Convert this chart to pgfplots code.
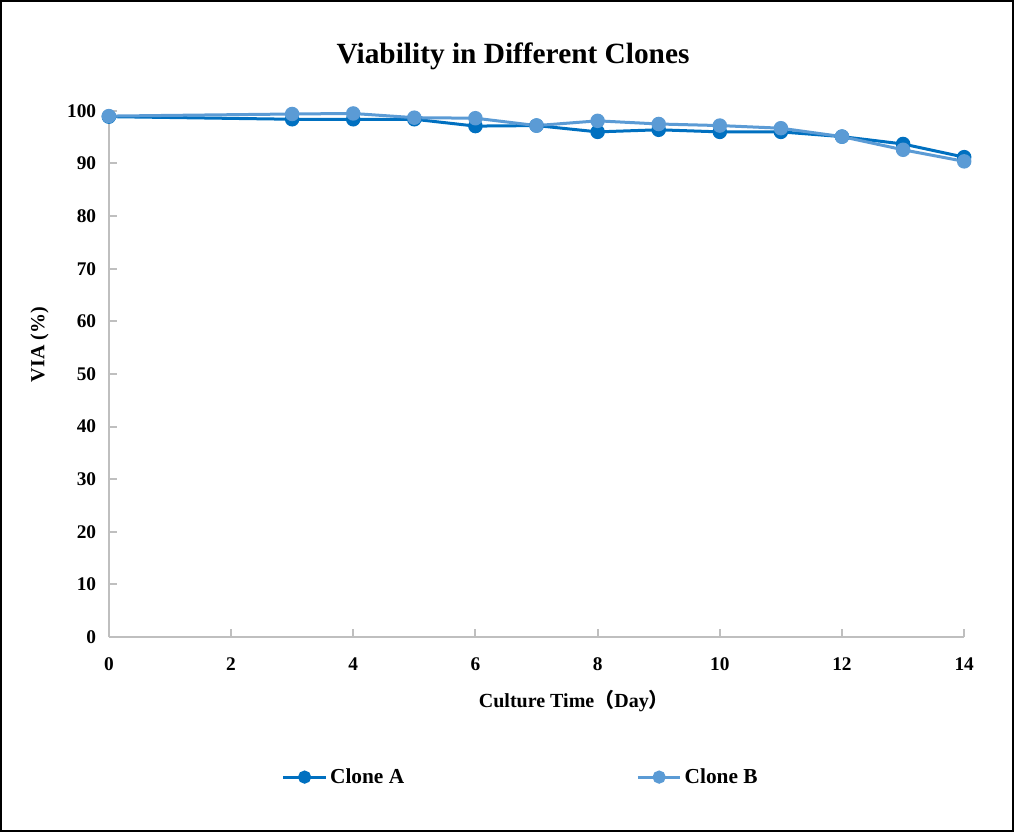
\documentclass[border=0pt]{standalone}
\usepackage{fontspec}
\setmainfont{Liberation Serif}
\newfontfamily\cjk{Noto Sans CJK SC}
\usepackage{pgfplots}
\pgfplotsset{compat=1.18}
\definecolor{cloneA}{HTML}{0070C0}
\definecolor{cloneB}{HTML}{5B9BD5}
\definecolor{axgray}{HTML}{BFBFBF}
\begin{document}
\begin{tikzpicture}
\begin{axis}[
  at={(0,0)}, anchor=south west,
  scale only axis,
  width=641.25pt, height=394.5pt,
  xmin=0, xmax=14, ymin=0, ymax=100,
  xtick={0,2,...,14}, ytick={0,10,...,100},
  axis x line=bottom, axis y line=left,
  axis line style={draw=axgray, line width=1.5pt, -},
  tick style={draw=axgray, line width=1.5pt},
  tick align=inside, major tick length=6pt,
  /pgf/number format/assume math mode=true,
  ticklabel style={font=\fontsize{14.5}{16}\selectfont\bfseries},
  xticklabel style={yshift=-12pt},
  yticklabel style={xshift=-6pt},
  xlabel={Culture Time{\cjk （}Day{\cjk ）}},
  xlabel style={font=\fontsize{15}{17}\selectfont\bfseries, at={(axis description cs:0.5,0)}, anchor=center, yshift=-48pt, xshift=28pt},
  ylabel={VIA (\%)},
  ylabel style={font=\fontsize{15}{17}\selectfont\bfseries, at={([xshift=-52pt, yshift=22pt]axis description cs:0,0.5)}, anchor=center},
  legend columns=2,
  legend style={at={(309pt,-105pt)}, anchor=center, draw=none, fill=none,
    font=\fontsize{16}{18}\selectfont\bfseries,
    /tikz/every even column/.append style={column sep=172pt}},
  legend image code/.code={
    \draw[#1, mark=none] (0pt,0pt) -- (32pt,0pt);
    \draw[#1, only marks, mark size=3.8pt] plot coordinates {(16pt,0pt)};
  },
  clip=false,
]
\addplot[color=cloneA, line width=2.25pt, mark=*, mark size=4.3pt, mark options={fill=cloneA, draw=cloneA}] coordinates {
  (0,98.9) (3,98.4) (4,98.4) (5,98.4) (6,97.1) (7,97.2) (8,96.0) (9,96.4) (10,96.0) (11,96.0) (12,95.1) (13,93.7) (14,91.2)
};
\addlegendentry{Clone A}
\addplot[color=cloneB, line width=2.25pt, mark=*, mark size=4.3pt, mark options={fill=cloneB, draw=cloneB}] coordinates {
  (0,99.0) (3,99.4) (4,99.5) (5,98.7) (6,98.6) (7,97.2) (8,98.1) (9,97.5) (10,97.2) (11,96.7) (12,95.1) (13,92.6) (14,90.4)
};
\addlegendentry{Clone B}
\end{axis}
\node[font=\fontsize{22}{26}\selectfont\bfseries] at (303pt,435pt) {Viability in Different Clones};
\draw[black, line width=1.2pt] (-81pt,-145.5pt) rectangle (678pt,477pt);
\end{tikzpicture}
\end{document}
